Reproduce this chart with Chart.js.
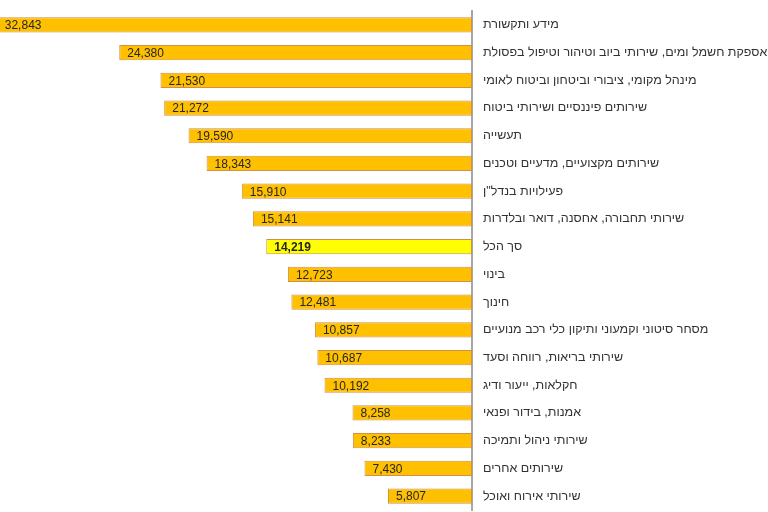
<!DOCTYPE html>
<html lang="he">
<head>
<meta charset="utf-8">
<script src="https://cdn.jsdelivr.net/npm/chart.js@4"></script>
<style>
  html, body { margin: 0; padding: 0; background: #fff; }
  #wrap { width: 768px; height: 512px; }
</style>
</head>
<body>
<div id="wrap"><canvas id="chart" width="768" height="512"></canvas></div>
<script>
var branches = [
  "מידע ותקשורת",
  "אספקת חשמל ומים, שירותי ביוב וטיהור וטיפול בפסולת",
  "מינהל מקומי, ציבורי וביטחון וביטוח לאומי",
  "שירותים פיננסיים ושירותי ביטוח",
  "תעשייה",
  "שירותים מקצועיים, מדעיים וטכנים",
  "פעילויות בנדל\"ן",
  "שירותי תחבורה, אחסנה, דואר ובלדרות",
  "סך הכל",
  "בינוי",
  "חינוך",
  "מסחר סיטוני וקמעוני ותיקון כלי רכב מנועיים",
  "שירותי בריאות, רווחה וסעד",
  "חקלאות, ייעור ודיג",
  "אמנות, בידור ופנאי",
  "שירותי ניהול ותמיכה",
  "שירותים אחרים",
  "שירותי אירוח ואוכל"
];
var wages = [32843, 24380, 21530, 21272, 19590, 18343, 15910, 15141, 14219,
             12723, 12481, 10857, 10687, 10192, 8258, 8233, 7430, 5807];
var totalLabel = "סך הכל";

var barColors = branches.map(function(b){ return b === totalLabel ? '#FFFF00' : '#FFC000'; });

// numbers written inside the left end of each bar
var valueLabels = {
  id: 'valueLabels',
  afterDatasetsDraw: function(chart){
    var ctx = chart.ctx;
    var meta = chart.getDatasetMeta(0);
    ctx.save();
    ctx.textBaseline = 'middle';
    ctx.textAlign = 'left';
    ctx.direction = 'ltr';
    meta.data.forEach(function(bar, i){
      var bold = branches[i] === totalLabel;
      ctx.font = (bold ? 'bold ' : '') + '12px "Liberation Sans", Arial, sans-serif';
      ctx.fillStyle = '#262626';
      ctx.fillText(wages[i].toLocaleString('en-US'), bar.x + 8, bar.y + 1);
    });
    ctx.restore();
  }
};

var chart = new Chart(document.getElementById('chart').getContext('2d'), {
  type: 'bar',
  data: {
    labels: branches,
    datasets: [{
      data: wages,
      backgroundColor: barColors,
      borderColor: '#D0904A',
      borderWidth: 1,
      borderSkipped: false,
      barPercentage: 0.55,
      categoryPercentage: 1
    }]
  },
  options: {
    indexAxis: 'y',
    responsive: false,
    animation: false,
    layout: { padding: { top: 11, bottom: 2, left: 0, right: 0 } },
    plugins: {
      legend: { display: false },
      tooltip: { enabled: false }
    },
    scales: {
      x: {
        display: false,
        reverse: true,
        min: 0,
        max: 32620
      },
      y: {
        position: 'right',
        afterFit: function(scale){
          scale.width = 296;
          scale.paddingTop = 0;
          scale.paddingBottom = 0;
        },
        grid: { display: false, drawTicks: false },
        border: { display: true, color: '#A6A6A6', width: 2 },
        ticks: {
          padding: 11,
          color: '#333333',
          font: { family: '"Liberation Sans", Arial, sans-serif', size: 12.5 },
          autoSkip: false
        }
      }
    }
  },
  plugins: [valueLabels]
});
</script>
</body>
</html>
